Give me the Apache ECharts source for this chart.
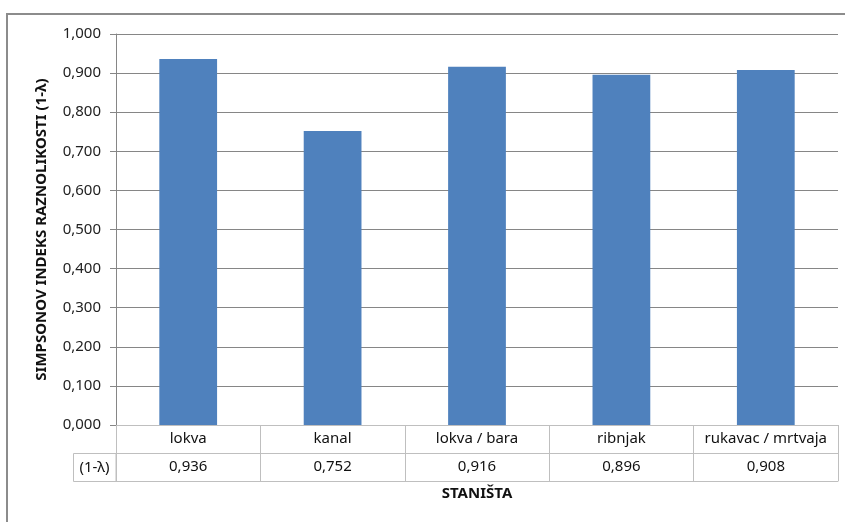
<!DOCTYPE html>
<html><head><meta charset="utf-8">
<script src="https://cdn.jsdelivr.net/npm/echarts@6/dist/echarts.min.js"></script>
<style>html,body{margin:0;padding:0;background:#fff}#c{width:845px;height:522px}</style>
</head><body><div id="c"></div>
<script>
const categories = ['lokva', 'kanal', 'lokva / bara', 'ribnjak', 'rukavac / mrtvaja'];
const values = [0.936, 0.752, 0.916, 0.896, 0.908];
const seriesName = '(1-λ)';
const yTitle = 'SIMPSONOV INDEKS RAZNOLIKOSTI (1-λ)';
const xTitle = 'STANIŠTA';
const yMin = 0, yMax = 1, yStep = 0.1;

const fmt = v => v.toFixed(3).replace('.', ',');
const FONT = 'Noto Sans';
const GRID = '#bfbfbf';
const chart = echarts.init(document.getElementById('c'), null, {renderer: 'canvas'});
chart.setOption({
  animation: false,
  textStyle: {fontFamily: FONT},
  grid: {left: 116, right: 7, top: 34, bottom: 97},
  xAxis: [
    {type: 'category', data: categories, position: 'bottom',
     axisLine: {show: true, lineStyle: {color: GRID, width: 1}},
     axisTick: {show: true, interval: 0, length: 28, lineStyle: {color: GRID}},
     axisLabel: {interval: 0, hideOverlap: false, margin: 6, fontSize: 15, color: '#111', fontFamily: FONT}},
    {type: 'category', data: values.map(fmt), position: 'bottom', offset: 28,
     axisLine: {show: true, lineStyle: {color: GRID, width: 1}},
     axisTick: {show: true, interval: 0, length: 28, lineStyle: {color: GRID}},
     axisLabel: {interval: 0, hideOverlap: false, margin: 6, fontSize: 15, color: '#111', fontFamily: FONT}},
    {type: 'category', data: categories, position: 'bottom', offset: 56,
     axisLine: {show: true, lineStyle: {color: GRID, width: 1}},
     axisTick: {show: false}, axisLabel: {show: false},
     name: xTitle, nameLocation: 'middle', nameGap: 5,
     nameTextStyle: {fontWeight: 'bold', fontSize: 15, color: '#111', fontFamily: FONT, verticalAlign: 'top'}}
  ],
  yAxis: {
    type: 'value', min: yMin, max: yMax, interval: yStep,
    axisLine: {show: true, lineStyle: {color: '#868686'}},
    axisTick: {show: true, length: 6, lineStyle: {color: '#868686'}},
    splitLine: {show: true, lineStyle: {color: '#868686', width: 1}},
    axisLabel: {formatter: v => fmt(v), fontSize: 15, color: '#222', margin: 15, fontFamily: FONT},
    name: yTitle, nameLocation: 'middle', nameGap: 67, nameRotate: 90,
    nameTextStyle: {fontWeight: 'bold', fontSize: 15, color: '#111', fontFamily: FONT}
  },
  series: [{
    name: seriesName, type: 'bar', data: values, barWidth: '40%', xAxisIndex: 0,
    itemStyle: {color: '#4f81bd'}
  }],
  graphic: [
    {type: 'rect', shape: {x: 7, y: 14, width: 900, height: 600}, style: {fill: 'none', stroke: '#8c8c8c', lineWidth: 2}, z: 0, silent: true},
    {type: 'rect', shape: {x: 73.5, y: 453.5, width: 42.5, height: 28}, style: {fill: 'none', stroke: GRID, lineWidth: 1}, silent: true},
    {type: 'text', x: 94.5, y: 467.5, style: {text: seriesName, font: '15px "' + FONT + '"', fill: '#111', textAlign: 'center', textVerticalAlign: 'middle'}, silent: true}
  ]
});
</script></body></html>
